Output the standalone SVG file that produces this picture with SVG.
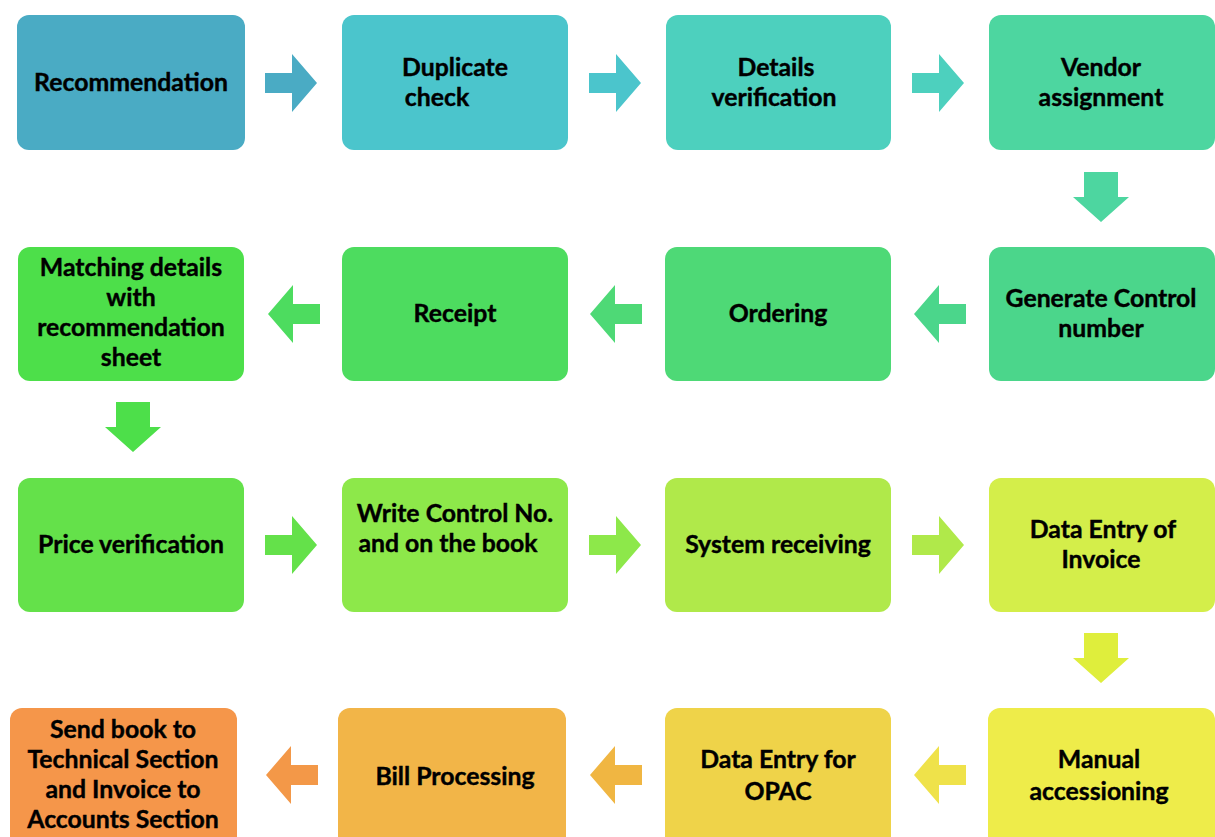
<svg xmlns="http://www.w3.org/2000/svg" width="1215" height="837" viewBox="0 0 1215 837">
<style>
text{font-family:Lato,"Liberation Sans",sans-serif;font-weight:bold;font-size:24.8px;fill:#000;stroke:#000;stroke-width:0.4;text-anchor:middle}
</style>
<defs>
<path id="ar" d="M0,-10 H27 V-29 L52,0 L27,29 V10 H0 Z"/>
<path id="al" d="M0,-10 H-27 V-29 L-52,0 L-27,29 V10 H0 Z"/>
<path id="ad" d="M-17,0 V25 H-28 L0,50 L28,25 H17 V0 Z"/>
</defs>
<rect width="1215" height="837" fill="#fff"/>
<g id="connectors">
<use href="#ar" x="265" y="83" fill="#4aabc4"/>
<use href="#ar" x="589" y="83" fill="#4bc5cc"/>
<use href="#ar" x="912" y="83" fill="#4dd0be"/>
<use href="#ad" x="1101" y="172" fill="#4dd6a0"/>
<use href="#al" x="966" y="314" fill="#4bd68b"/>
<use href="#al" x="642" y="314" fill="#4ed976"/>
<use href="#al" x="320" y="314" fill="#4ddc5f"/>
<use href="#ad" x="133" y="402" fill="#4ddf4a"/>
<use href="#ar" x="265" y="545" fill="#64e14a"/>
<use href="#ar" x="589" y="545" fill="#8de84a"/>
<use href="#ar" x="912" y="545" fill="#b0e94a"/>
<use href="#ad" x="1101" y="633" fill="#dfee3c"/>
<use href="#al" x="966" y="775" fill="#efe24a"/>
<use href="#al" x="642" y="775" fill="#f0b642"/>
<use href="#al" x="318" y="775" fill="#f39848"/>
</g>
<g id="n1"><rect x="17" y="15" width="228" height="135" rx="12" fill="#4aabc4"/><text x="131" y="91">Recommendation</text></g>
<g id="n2"><rect x="342" y="15" width="226" height="135" rx="12" fill="#4bc5cc"/><text x="455" y="76">Duplicate</text><text x="437" y="106">check</text></g>
<g id="n3"><rect x="666" y="15" width="225" height="135" rx="12" fill="#4dd0be"/><text x="776" y="76">Details</text><text x="774" y="106">verification</text></g>
<g id="n4"><rect x="989" y="15" width="226" height="135" rx="12" fill="#4dd6a0"/><text x="1101" y="76">Vendor</text><text x="1101" y="106">assignment</text></g>
<g id="n5"><rect x="989" y="247" width="226" height="134" rx="12" fill="#4bd68b"/><text x="1101" y="307">Generate Control</text><text x="1101" y="337">number</text></g>
<g id="n6"><rect x="665" y="247" width="226" height="134" rx="12" fill="#4ed976"/><text x="778" y="322">Ordering</text></g>
<g id="n7"><rect x="342" y="247" width="226" height="134" rx="12" fill="#4ddc5f"/><text x="455" y="322">Receipt</text></g>
<g id="n8"><rect x="18" y="247" width="226" height="134" rx="12" fill="#4ddf4a"/><text x="131" y="276">Matching details</text><text x="131" y="306">with</text><text x="131" y="336">recommendation</text><text x="131" y="366">sheet</text></g>
<g id="n9"><rect x="18" y="478" width="226" height="134" rx="12" fill="#64e14a"/><text x="131" y="553">Price verification</text></g>
<g id="n10"><rect x="342" y="478" width="226" height="134" rx="12" fill="#8de84a"/><text x="455" y="522">Write Control No.</text><text x="448" y="552">and on the book</text></g>
<g id="n11"><rect x="665" y="478" width="226" height="134" rx="12" fill="#b0e94a"/><text x="778" y="553">System receiving</text></g>
<g id="n12"><rect x="989" y="478" width="226" height="134" rx="12" fill="#d4ee4a"/><text x="1103" y="538">Data Entry of</text><text x="1101" y="568">Invoice</text></g>
<g id="n13"><rect x="988" y="708" width="227" height="140" rx="12" fill="#eeec4a"/><text x="1099" y="768">Manual</text><text x="1099" y="800">accessioning</text></g>
<g id="n14"><rect x="665" y="708" width="226" height="140" rx="12" fill="#efd349"/><text x="778" y="768">Data Entry for</text><text x="778" y="800">OPAC</text></g>
<g id="n15"><rect x="338" y="708" width="228" height="140" rx="12" fill="#f2b548"/><text x="455" y="785">Bill Processing</text></g>
<g id="n16"><rect x="10" y="708" width="227" height="140" rx="12" fill="#f5964a"/><text x="123" y="738">Send book to</text><text x="123" y="768">Technical Section</text><text x="123" y="798">and Invoice to</text><text x="123" y="828">Accounts Section</text></g>
</svg>
